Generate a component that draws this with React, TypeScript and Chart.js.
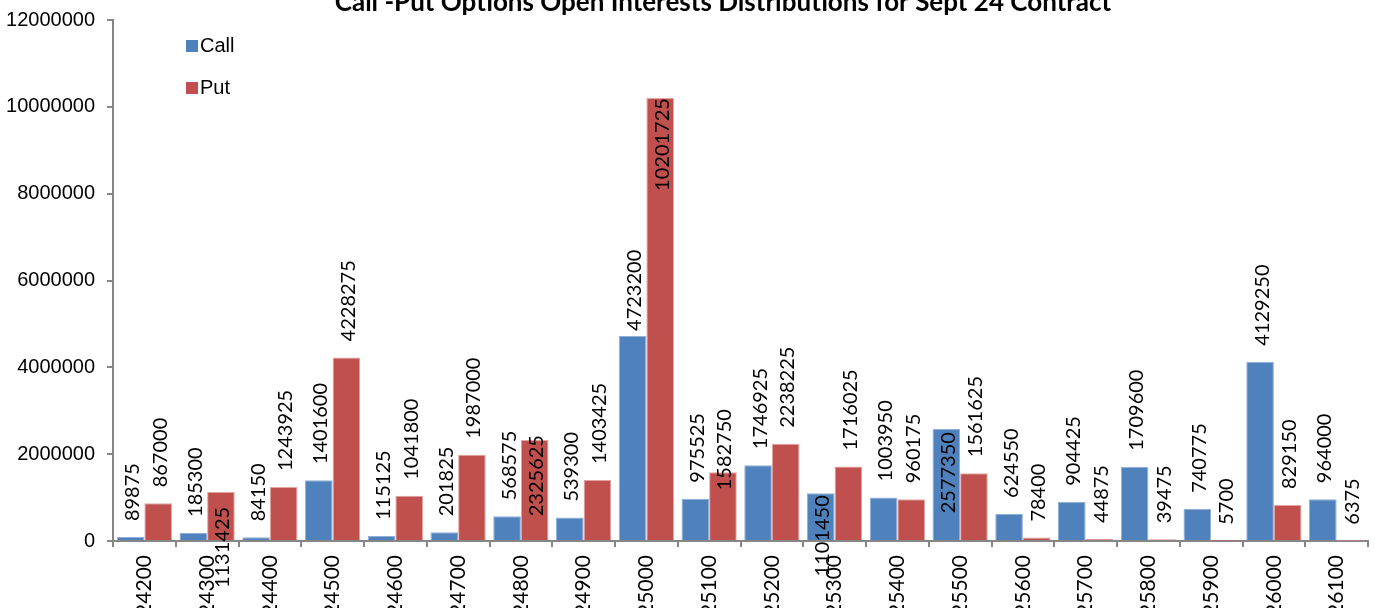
import React, { useEffect, useRef } from "react";
import { Chart, registerables } from "chart.js";

Chart.register(...registerables);

const strikes = [
  "24200", "24300", "24400", "24500", "24600", "24700", "24800", "24900", "25000", "25100",
  "25200", "25300", "25400", "25500", "25600", "25700", "25800", "25900", "26000", "26100",
];

const callOI = [
  89875, 185300, 84150, 1401600, 115125, 201825, 568575, 539300, 4723200, 975525,
  1746925, 1101450, 1003950, 2577350, 624550, 904425, 1709600, 740775, 4129250, 964000,
];

const putOI = [
  867000, 1131425, 1243925, 4228275, 1041800, 1987000, 2325625, 1403425, 10201725, 1582750,
  2238225, 1716025, 960175, 1561625, 78400, 44875, 39475, 5700, 829150, 6375,
];

const yTicks = [0, 2000000, 4000000, 6000000, 8000000, 10000000, 12000000];

const TITLE = "Call -Put Options Open Interests Distributions for Sept 24 Contract";

// label placement overrides (dataset-index), relative to bar top
const LABEL_PLACEMENT: Record<string, { top?: number; bottom?: number }> = {
  "1-1": { top: 15 },
  "1-6": { top: -5 },
  "1-8": { top: 0 },
  "1-9": { bottom: 18 },
  "0-8": { bottom: -5 },
  "0-11": { top: 2 },
  "0-13": { top: 3 },
};

const TOP_SHIFT = 30; // canvas is shifted up, chart cropped like reference
const W = 1375;
const H = 700;

const CALL_COLOR = "#4F81BD";
const PUT_COLOR = "#C0504D";
const AXIS_COLOR = "#868686";
const LABEL_FONT = "Lato, 'Open Sans', sans-serif";

const overlayPlugin = {
  id: "overlay",
  afterDatasetsDraw(chart: any) {
    const ctx = chart.ctx as CanvasRenderingContext2D;
    ctx.save();
    ctx.font = `20px ${LABEL_FONT}`;
    ctx.fillStyle = "#000";
    chart.data.datasets.forEach((ds: any, di: number) => {
      const meta = chart.getDatasetMeta(di);
      meta.data.forEach((bar: any, i: number) => {
        const text = String(ds.data[i]);
        const w = ctx.measureText(text).width;
        const place = LABEL_PLACEMENT[`${di}-${i}`];
        let bottomY: number;
        if (place && place.top !== undefined) bottomY = bar.y + place.top + w;
        else bottomY = bar.y + (place && place.bottom !== undefined ? place.bottom : -16);
        ctx.save();
        ctx.translate(bar.x + 2, bottomY);
        ctx.rotate(-Math.PI / 2);
        ctx.textAlign = "left";
        ctx.textBaseline = "middle";
        ctx.fillText(text, 0, 0);
        ctx.restore();
      });
    });
    ctx.restore();
  },
  afterDraw(chart: any) {
    const ctx = chart.ctx as CanvasRenderingContext2D;
    ctx.save();
    // title
    ctx.font = `bold 26px ${LABEL_FONT}`;
    ctx.fillStyle = "#000";
    ctx.textAlign = "center";
    ctx.textBaseline = "alphabetic";
    ctx.fillText(TITLE, 723, 11 + TOP_SHIFT);
    // legend
    const items = [
      { label: "Call", color: CALL_COLOR, y: 46 },
      { label: "Put", color: PUT_COLOR, y: 88 },
    ];
    ctx.font = "20px 'Liberation Sans', Arial, sans-serif";
    ctx.textAlign = "left";
    ctx.textBaseline = "middle";
    items.forEach((it) => {
      ctx.fillStyle = it.color;
      ctx.fillRect(186, it.y - 6 + TOP_SHIFT, 12, 12);
      ctx.fillStyle = "#000";
      ctx.fillText(it.label, 200, it.y + TOP_SHIFT);
    });
    ctx.restore();
  },
};

export default function App() {
  const ref = useRef<HTMLCanvasElement | null>(null);

  useEffect(() => {
    if (!ref.current) return;
    const chart = new Chart(ref.current, {
      type: "bar",
      data: {
        labels: strikes,
        datasets: [
          {
            label: "Call",
            data: callOI,
            backgroundColor: CALL_COLOR,
            borderColor: "#8FB0DA",
            borderWidth: 1,
            categoryPercentage: 0.88,
            barPercentage: 1,
          },
          {
            label: "Put",
            data: putOI,
            backgroundColor: PUT_COLOR,
            borderColor: "#E3A3A1",
            borderWidth: 1,
            categoryPercentage: 0.88,
            barPercentage: 1,
          },
        ],
      },
      options: {
        responsive: false,
        animation: false,
        layout: { padding: { top: 20 + TOP_SHIFT, right: 7, left: 0, bottom: 0 } },
        plugins: {
          legend: { display: false },
          title: { display: false },
          tooltip: { enabled: false },
        },
        scales: {
          x: {
            grid: {
              offset: true,
              drawOnChartArea: false,
              drawTicks: true,
              tickLength: 6,
              color: AXIS_COLOR,
              lineWidth: 2,
            },
            border: { color: AXIS_COLOR, width: 2 },
            ticks: {
              minRotation: 90,
              maxRotation: 90,
              padding: 8,
              color: "#000",
              font: { family: LABEL_FONT, size: 21 },
              autoSkip: false,
            },
            afterFit(scale: any) {
              scale.height = H - (541 + TOP_SHIFT);
            },
          },
          y: {
            min: 0,
            max: 12000000,
            afterBuildTicks(scale: any) {
              scale.ticks = yTicks.map((v) => ({ value: v }));
            },
            grid: {
              drawOnChartArea: false,
              drawTicks: true,
              tickLength: 6,
              color: AXIS_COLOR,
              lineWidth: 2,
            },
            border: { color: AXIS_COLOR, width: 2 },
            ticks: {
              padding: 12,
              color: "#000",
              font: { family: "'Liberation Sans', Arial, sans-serif", size: 20 },
              callback: (v: any) => String(v),
            },
            afterFit(scale: any) {
              scale.width = 113;
            },
          },
        },
      },
      plugins: [overlayPlugin],
    });
    return () => chart.destroy();
  }, []);

  return (
    <div style={{ position: "fixed", left: 0, top: -TOP_SHIFT, width: W, height: H }}>
      <canvas ref={ref} width={W} height={H} style={{ width: W, height: H, display: "block" }} />
    </div>
  );
}
